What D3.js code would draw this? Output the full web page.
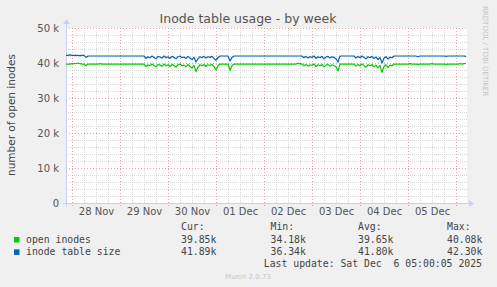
<!DOCTYPE html>
<html><head><meta charset="utf-8">
<script src="https://cdn.jsdelivr.net/npm/d3@7"></script>
<style>
body{margin:0;background:#f0f0f0;}
svg{display:block;}
</style></head>
<body>
<svg id="chart" width="497" height="287"></svg>
<script>
// ---- data (values in thousands), hourly from 2025-11-27 21:00 to 2025-12-06 05:00 ----
const startTime = "2025-11-27T21:00:00Z";
const seriesNames = ["open inodes", "inode table size"];
const seriesColors = ["#00cc00", "#0066b3"];
const openInodes = [
 39.7,39.7,39.7,39.8,39.8,39.8,40.0,39.8,39.7,39.7,
 39.2,
 39.7,39.7,39.7,39.7,39.7,39.7,39.8,39.7,39.7,39.7,39.7,39.7,39.7,39.7,39.7,39.7,39.7,39.7,39.7,39.7,39.7,39.7,39.7,39.7,39.7,39.7,39.7,39.7,39.7,
 39.0,39.5,39.2,39.7,39.3,38.9,39.6,39.4,39.1,39.7,39.2,39.5,39.0,39.6,39.3,38.8,39.5,39.7,39.2,39.4,38.9,39.6,39.0,38.6,39.3,37.6,38.8,39.5,39.2,39.6,39.0,39.5,39.3,39.6,39.0,38.0,39.2,
 39.7,39.7,39.7,39.7,39.7,
 37.9,
 39.2,
 39.7,39.7,39.7,39.7,39.7,39.7,39.7,39.7,39.7,39.7,39.7,39.7,39.7,39.7,39.7,39.7,39.7,39.7,39.7,39.7,39.7,39.7,39.7,39.7,39.7,39.7,39.7,39.7,39.7,39.7,39.7,39.7,39.9,39.8,39.7,
 39.2,39.6,39.1,39.5,39.3,39.7,39.0,39.5,39.2,39.6,38.9,39.4,39.6,39.1,39.5,39.3,38.9,37.7,
 39.7,39.7,39.7,39.7,39.7,39.7,39.7,39.7,
 39.1,39.6,39.2,39.7,39.3,38.8,39.5,39.2,39.6,38.9,39.4,38.6,39.3,37.3,39.0,39.5,38.7,39.4,39.2,
 39.7,39.7,39.7,39.7,39.7,39.7,39.7,39.7,39.8,39.7,39.7,39.7,39.6,39.7,39.7,39.7,39.7,39.7,39.7,39.8,39.7,39.7,39.7,39.7,39.7,39.7,39.6,39.7,39.7,39.7,39.7,39.7,39.7,39.8,39.7,39.8,39.85
];
const inodeTableSize = [
 42.2,42.2,42.3,42.2,42.2,42.2,42.2,42.1,42.2,42.2,
 41.6,
 42.0,42.0,42.0,42.0,42.0,42.0,42.0,42.0,42.0,42.0,42.0,42.0,42.0,42.0,42.0,42.0,42.0,42.0,42.0,42.0,42.0,42.0,42.0,42.0,42.0,42.0,42.0,42.0,42.0,
 41.3,41.8,41.5,42.0,41.6,41.2,41.9,41.7,41.4,42.0,41.5,41.8,41.3,41.9,41.6,41.2,41.8,42.0,41.5,41.7,41.3,41.9,41.4,41.0,41.6,40.3,41.2,41.8,41.5,41.9,41.4,41.8,41.6,41.9,41.3,40.8,41.5,
 42.0,42.0,42.0,42.0,42.0,
 40.6,
 41.6,
 42.0,42.0,42.0,42.0,42.0,42.0,42.0,42.0,42.0,42.0,42.0,42.0,42.0,42.0,42.0,42.0,42.0,42.0,42.0,42.0,42.0,42.0,42.0,42.0,42.0,42.0,42.0,42.0,42.0,42.0,42.0,42.0,42.0,42.0,42.0,
 41.5,41.9,41.4,41.8,41.6,42.0,41.3,41.8,41.5,41.9,41.2,41.7,41.9,41.4,41.8,41.6,41.2,40.3,
 42.0,42.0,42.0,42.0,42.0,42.0,42.0,42.0,
 41.4,41.9,41.5,42.0,41.6,41.2,41.8,41.5,41.9,41.3,41.7,41.0,41.6,40.0,41.4,41.8,41.1,41.7,41.5,
 42.0,42.0,42.0,42.0,42.0,42.0,42.0,42.0,42.0,42.0,42.0,42.0,41.8,42.0,42.0,42.0,42.0,42.0,42.0,42.0,42.0,42.0,42.0,42.0,42.0,42.0,41.9,42.0,42.0,42.0,42.0,42.0,42.0,42.0,42.0,42.0,41.89
];
const statHeaders = ["Cur:", "Min:", "Avg:", "Max:"];
const openStats = ["39.85k", "34.18k", "39.65k", "40.08k"];
const tableStats = ["41.89k", "36.34k", "41.80k", "42.30k"];
const xTickLabels = ["28 Nov","29 Nov","30 Nov","01 Dec","02 Dec","03 Dec","04 Dec","05 Dec"];
const yTickValues = [0, 10, 20, 30, 40, 50];
const yTickLabels = ["0", "10 k", "20 k", "30 k", "40 k", "50 k"];
const titleText = "Inode table usage - by week";
const yLabelText = "number of open inodes";
const lastUpdate = "Last update: Sat Dec  6 05:00:05 2025";
const endTime = "2025-12-06T05:00:00Z";

// ---- drawing ----
const svg = d3.select("#chart");
const L = 66, R = 466, T = 28, B = 203;
const t0 = new Date(startTime), t1 = new Date(endTime);
const x = d3.scaleUtc().domain([t0, t1]).range([L, R]);
const y = d3.scaleLinear().domain([0, 50]).range([B, T]);
const HOUR = 3600e3;
const times = openInodes.map((_, i) => new Date(t0.getTime() + i * HOUR));

svg.append("rect").attr("width", 497).attr("height", 287).attr("fill", "#f0f0f0");
svg.append("rect").attr("x", L).attr("y", T).attr("width", R - L + 1).attr("height", B - T).attr("fill", "#ffffff");

// minor grid
const g = svg.append("g").attr("shape-rendering", "crispEdges");
const minorY = d3.range(0, 51, 2).filter(v => v % 10 !== 0);
g.selectAll(".mny").data(minorY).join("line")
  .attr("x1", L).attr("x2", R + 1).attr("y1", d => Math.round(y(d)) + 0.5).attr("y2", d => Math.round(y(d)) + 0.5)
  .attr("stroke", "#d8d8d8").attr("stroke-dasharray", "1,1");
const sixH = d3.utcHour.every(6).range(t0, t1).filter(d => d.getUTCHours() !== 0);
g.selectAll(".mnx").data(sixH).join("line")
  .attr("y1", T).attr("y2", B).attr("x1", d => Math.round(x(d)) + 0.5).attr("x2", d => Math.round(x(d)) + 0.5)
  .attr("stroke", "#d8d8d8").attr("stroke-dasharray", "1,1");
// major grid
g.selectAll(".mjy").data(yTickValues.filter(v => v > 0)).join("line")
  .attr("x1", L).attr("x2", R + 1).attr("y1", d => Math.round(y(d)) + 0.5).attr("y2", d => Math.round(y(d)) + 0.5)
  .attr("stroke", "#eea0a0").attr("stroke-dasharray", "1,2");
const days = d3.utcDay.range(t0, t1);
g.selectAll(".mjx").data(days).join("line")
  .attr("y1", T).attr("y2", B + 3).attr("x1", d => Math.round(x(d)) + 0.5).attr("x2", d => Math.round(x(d)) + 0.5)
  .attr("stroke", "#eea0a0").attr("stroke-dasharray", "1,2");

// axes via d3 axis generators (labels only)
const yAxis = d3.axisLeft(y).tickValues(yTickValues).tickFormat((d, i) => yTickLabels[i]).tickSize(0).tickPadding(7);
const yg = svg.append("g").attr("transform", `translate(${L},0)`).call(yAxis);
yg.select(".domain").remove();
yg.selectAll("text").attr("font-family", "DejaVu Sans, sans-serif").attr("font-size", 10).attr("fill", "#555");

const noon = days.map(d => new Date(d.getTime() + 12 * HOUR));
const xAxis = d3.axisBottom(x).tickValues(noon).tickFormat((d, i) => xTickLabels[i]).tickSize(0).tickPadding(5);
const xg = svg.append("g").attr("transform", `translate(0,${B})`).call(xAxis);
xg.select(".domain").remove();
xg.selectAll("text").attr("font-family", "DejaVu Sans, sans-serif").attr("font-size", 10).attr("fill", "#555");

// axis lines + arrows
const axisCol = "#c9cff2";
svg.append("line").attr("x1", L + 0.5).attr("x2", L + 0.5).attr("y1", 24).attr("y2", B + 3).attr("stroke", axisCol);
svg.append("line").attr("x1", L - 3).attr("x2", 470).attr("y1", B + 0.5).attr("y2", B + 0.5).attr("stroke", axisCol);
svg.append("path").attr("d", `M${L-3},${24}L${L+4},${24}L${L+0.5},${19}Z`).attr("fill", axisCol);
svg.append("path").attr("d", `M${469},${B-3}L${469},${B+4}L${474},${B+0.5}Z`).attr("fill", axisCol);

// lines
const lineGen = arr => d3.line().x((d, i) => x(times[i])).y(d => y(d))(arr);
[openInodes, inodeTableSize].forEach((arr, k) => {
  svg.append("path").attr("d", lineGen(arr)).attr("fill", "none")
    .attr("stroke", seriesColors[k]).attr("stroke-width", 1.2).attr("stroke-linejoin", "round");
});

// title
svg.append("text").attr("x", 248).attr("y", 23).attr("text-anchor", "middle")
  .attr("font-family", "DejaVu Sans, sans-serif").attr("font-size", 12.5).attr("fill", "#555").text(titleText);
// y label
svg.append("text").attr("transform", "translate(15,115) rotate(-90)").attr("text-anchor", "middle")
  .attr("font-family", "DejaVu Sans, sans-serif").attr("font-size", 10.5).attr("fill", "#444").text(yLabelText);
// watermark
svg.append("text").attr("transform", "translate(483,6) rotate(90)").attr("text-anchor", "start")
  .attr("font-family", "DejaVu Sans, sans-serif").attr("font-size", 7).attr("fill", "#c4c4c4").text("RRDTOOL / TOBI OETIKER");

// legend
const mono = "DejaVu Sans Mono, monospace";
const colX = [181, 270.5, 358, 447];
statHeaders.forEach((h, i) => svg.append("text").attr("x", colX[i]).attr("y", 230)
  .attr("font-family", mono).attr("font-size", 9.8).attr("fill", "#444").text(h));
const rows = [openStats, tableStats];
rows.forEach((vals, r) => {
  const yy = 243 + r * 12.4;
  svg.append("rect").attr("x", 14).attr("y", yy - 6).attr("width", 5.5).attr("height", 5.5).attr("fill", seriesColors[r]);
  svg.append("text").attr("x", 26).attr("y", yy).attr("font-family", mono).attr("font-size", 9.8).attr("fill", "#444").text(seriesNames[r]);
  vals.forEach((v, i) => svg.append("text").attr("x", colX[i]).attr("y", yy)
    .attr("font-family", mono).attr("font-size", 9.8).attr("fill", "#444").text(v));
});
svg.append("text").attr("x", 482).attr("y", 267).attr("text-anchor", "end").attr("xml:space", "preserve")
  .style("white-space", "pre")
  .attr("font-family", mono).attr("font-size", 9.8).attr("fill", "#444").text(lastUpdate);
svg.append("text").attr("x", 248).attr("y", 279).attr("text-anchor", "middle")
  .attr("font-family", "DejaVu Sans, sans-serif").attr("font-size", 7).attr("fill", "#c8c8c8").text("Munin 2.0.73");
</script>
</body></html>
